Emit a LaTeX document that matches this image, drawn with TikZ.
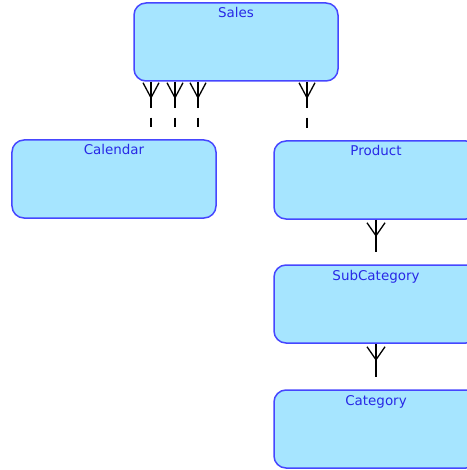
\documentclass[tikz,border=0pt]{standalone}
\usepackage{fontspec}
\setmainfont{DejaVu Sans}
\usetikzlibrary{calc}
\definecolor{entityfill}{RGB}{166,229,255}
\definecolor{entityline}{RGB}{70,70,255}
\definecolor{entitytext}{RGB}{40,40,230}
\tikzset{
  entity/.style={draw=entityline,fill=entityfill,line width=1.5bp,rounded corners=12bp,
                 minimum width=204bp,inner xsep=0pt,inner ysep=3bp,
                 text height=12bp,text depth=60bp,
                 font=\fontsize{13.5}{15}\selectfont,text=entitytext},
  link/.style={black,line width=1.3bp,shorten >=12bp},
  optional/.style={link,dash pattern=on 26bp off 10bp on 11bp off 40bp},
  prong/.style={black,line width=1.3bp},
}

\begin{document}
\begin{tikzpicture}[x=1bp,y=-1bp]
  \useasboundingbox (0,0) rectangle (467,470);

  % entities
  \node[entity] (sales) at (236,42) {Sales};
  \node[entity] (calendar) at (114,179) {Calendar};
  \node[entity] (product) at (376,180) {Product};
  \node[entity] (subcat) at (376,304) {SubCategory};
  \node[entity] (category) at (376,429) {Category};

  % sales to calendar, three date roles
  \foreach \dx in {-85,-61,-38}{
    \path ($(sales.south)+(\dx,0)$) coordinate (foot);
    \draw[optional] (foot) -- (foot |- calendar.north);
    \draw[prong] ($(foot)+(-8,1)$) -- ($(foot)+(0,16)$) -- ($(foot)+(8,1)$);
  }

  % sales to product
  \path ($(sales.south)+(71,0)$) coordinate (pfoot);
  \draw[optional] (pfoot) -- (pfoot |- product.north);
  \draw[prong] ($(pfoot)+(-8,1)$) -- ($(pfoot)+(0,16)$) -- ($(pfoot)+(8,1)$);

  % product hierarchy
  \draw[link] (product.south) -- (subcat.north);
  \draw[prong] ($(product.south)+(-9,3)$) -- ($(product.south)+(0,16)$) -- ($(product.south)+(9,3)$);
  \draw[link] (subcat.south) -- (category.north);
  \draw[prong] ($(subcat.south)+(-9,3)$) -- ($(subcat.south)+(0,16)$) -- ($(subcat.south)+(9,3)$);
\end{tikzpicture}
\end{document}
